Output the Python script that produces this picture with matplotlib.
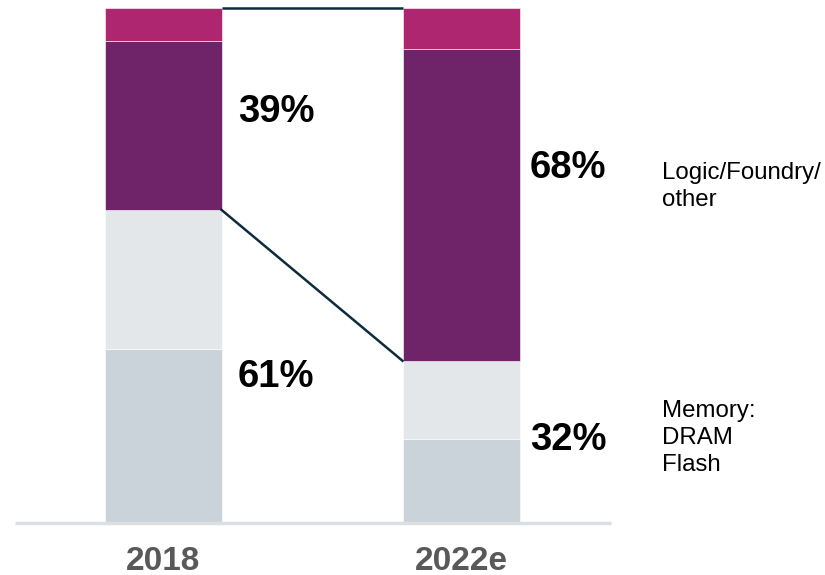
import matplotlib
matplotlib.use("Agg")
import matplotlib.pyplot as plt
import numpy as np

# ---- data ----
years = ["2018", "2022e"]
flash = [33.8, 16.3]
dram = [27.0, 15.2]
logic = [32.7, 60.5]
other = [6.5, 8.0]
memory_labels = ["61%", "32%"]
logic_labels = ["39%", "68%"]
legend_logic = "Logic/Foundry/\nother"
legend_memory = "Memory:\nDRAM\nFlash"

# ---- style ----
c_flash = "#cbd3da"
c_dram = "#e3e7ea"
c_logic = "#6f2369"
c_other = "#ae2570"
c_line = "#0d2b3e"
c_base = "#dcdfe2"

fig = plt.figure(figsize=(8.25, 5.75), dpi=100)
ax = fig.add_axes([0, 52 / 575, 1, 515 / 575])
ax.set_xlim(-163 / 298, (825 - 163) / 298)
ax.set_ylim(0, 100)
ax.axis("off")

x = np.arange(len(years))
w = 117 / 298
bottom = np.zeros(len(years))
for vals, col in [(flash, c_flash), (dram, c_dram), (logic, c_logic), (other, c_other)]:
    ax.bar(x, vals, width=w, bottom=bottom, color=col, edgecolor="white",
           linewidth=0.4, zorder=2)
    bottom = bottom + np.array(vals)

mem_top = np.array(flash) + np.array(dram)
total = bottom
# connector lines
ax.plot([x[0] + w / 2, x[1] - w / 2], [total[0], total[1]], color=c_line, lw=1.8,
        zorder=3, clip_on=False, solid_capstyle="butt")
ax.plot([x[0] + w / 2, x[1] - w / 2], [mem_top[0], mem_top[1]], color=c_line, lw=1.8,
        zorder=3, clip_on=False)

# baseline
ax.plot([-148 / 298, (611 - 163) / 298], [0, 0], color=c_base, lw=2.5, zorder=4,
        clip_on=False, solid_capstyle="butt")

font = ["Liberation Sans", "DejaVu Sans"]
# percent labels
pct_x = [x[0] + w / 2 + 0.055, x[1] + w / 2 + 0.035]
pct_mem_y = [28.3, 16.1]
pct_log_y = [79.8, 68.9]
for i in range(2):
    ax.text(pct_x[i], pct_mem_y[i], memory_labels[i], fontsize=27.5, fontweight="bold",
            ha="left", va="center", family=font, color="black")
    ax.text(pct_x[i], pct_log_y[i], logic_labels[i], fontsize=27.5, fontweight="bold",
            ha="left", va="center", family=font, color="black")

# legend texts
lx = (662 - 163) / 298
ax.text(lx, 65.3, legend_logic, fontsize=17.3, ha="left", va="center", family=font,
        linespacing=1.32, color="black")
ax.text(lx, 16.5, legend_memory, fontsize=17.3, ha="left", va="center", family=font,
        linespacing=1.32, color="black")

# year labels
for i, yr in enumerate(years):
    ax.text(x[i], -7.4, yr, fontsize=24, fontweight="bold", ha="center", va="center",
            family=font, color="#595959")

fig.savefig("out.png", dpi=100)
